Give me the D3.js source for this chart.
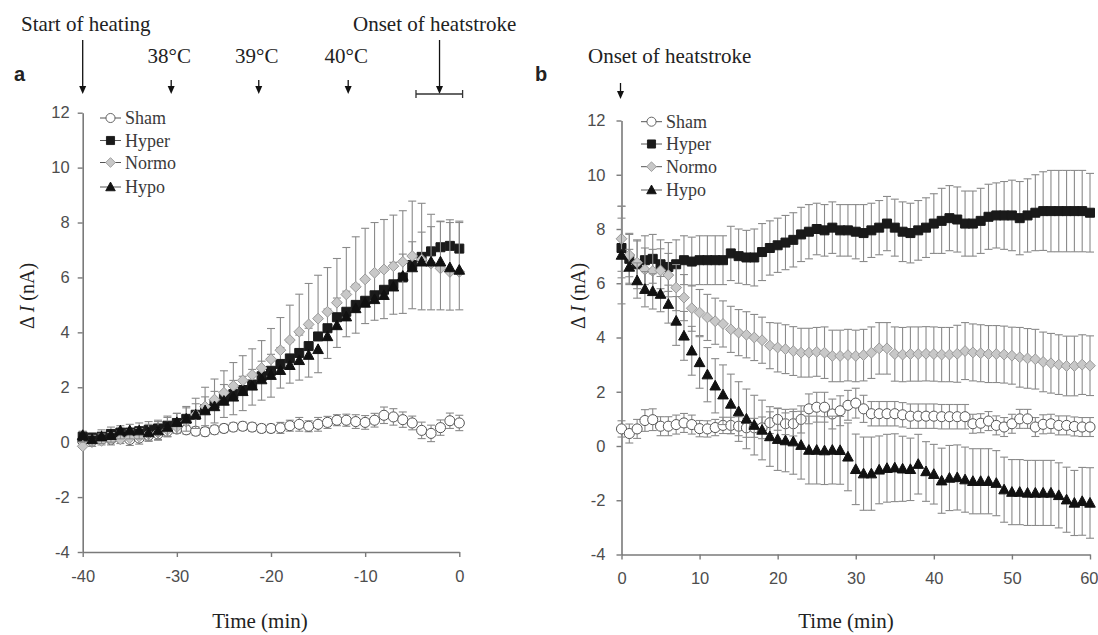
<!DOCTYPE html>
<html>
<head>
<meta charset="utf-8">
<script src="https://cdn.jsdelivr.net/npm/d3@7"></script>
<style>
  body { margin: 0; background: #fff; }
  svg { display: block; }
  text { font-family: "Liberation Serif", "Times New Roman", serif; }
  .tick text { font-family: "Liberation Sans", Arial, sans-serif; font-size: 16.5px; fill: #4d4d4d; }
  .tag { font-family: "Liberation Sans", Arial, sans-serif; font-weight: bold; }
</style>
</head>
<body>
<svg id="chart" width="1098" height="635"></svg>
<script>
// ---- data: panel a (time before heatstroke, min) ----
const timeA = d3.range(-40, 1);
const shamA  = [0.05,0.05,0.1,0.1,0.15,0.1,0.15,0.25,0.3,0.4, 0.48,0.45,0.4,0.38,0.45,0.5,0.55,0.58,0.55,0.5, 0.5,0.52,0.6,0.65,0.58,0.65,0.72,0.8,0.8,0.75, 0.72,0.8,0.98,0.92,0.82,0.7,0.43,0.32,0.53,0.78,0.7];
const shamErrA = [0.2,0.2,0.2,0.2,0.2,0.22,0.22,0.22,0.2,0.2, 0.15,0.15,0.15,0.15,0.15,0.15,0.15,0.15,0.15,0.15, 0.15,0.2,0.2,0.25,0.2,0.25,0.22,0.2,0.22,0.25, 0.25,0.25,0.3,0.3,0.28,0.25,0.3,0.3,0.28,0.28,0.28];
const hyperA = [0.2,0.15,0.2,0.3,0.35,0.35,0.4,0.45,0.5,0.6, 0.7,0.85,1.0,1.2,1.4,1.6,1.75,1.9,2.1,2.4, 2.6,2.85,3.05,3.25,3.5,3.85,4.15,4.55,4.75,5.0, 5.15,5.35,5.55,5.75,6.0,6.45,6.75,6.95,7.1,7.15,7.05];
const hyperErrA = [0.2,0.2,0.25,0.25,0.25,0.3,0.3,0.3,0.3,0.35, 0.35,0.4,0.4,0.45,0.45,0.5,0.5,0.5,0.55,0.55, 0.6,0.6,0.6,0.65,0.65,0.7,0.7,0.7,0.75,0.75, 0.75,0.8,0.8,0.8,0.85,0.85,0.9,0.9,0.95,0.95,1.0];
const normoA = [-0.15,0.0,0.05,0.1,0.1,0.15,0.2,0.3,0.35,0.45, 0.55,0.75,1.0,1.3,1.55,1.8,2.05,2.25,2.45,2.7, 3.02,3.35,3.72,4.02,4.29,4.5,4.75,5.08,5.38,5.66, 5.93,6.17,6.29,6.41,6.57,6.78,6.65,6.5,6.33,6.2,6.2];
const normoErrA = [0.25,0.25,0.25,0.25,0.3,0.3,0.3,0.35,0.4,0.45, 0.5,0.55,0.6,0.7,0.75,0.8,0.85,0.9,0.95,1.0, 1.12,1.19,1.27,1.37,1.49,1.58,1.61,1.61,1.71,1.82, 1.86,1.83,1.82,1.86,1.86,2.0,2.05,1.8,1.7,1.8,1.8];
const hypoA  = [0.25,0.1,0.2,0.25,0.42,0.42,0.42,0.35,0.42,0.55, 0.72,0.85,1.0,1.15,1.3,1.5,1.65,1.85,2.05,2.28, 2.44,2.62,2.8,2.98,3.17,3.38,3.85,4.25,4.57,4.87, 5.07,5.2,5.35,5.66,6.05,6.36,6.57,6.57,6.57,6.36,6.27];
const hypoErrA = [0.25,0.25,0.25,0.25,0.3,0.3,0.3,0.3,0.35,0.35, 0.4,0.45,0.5,0.55,0.6,0.6,0.65,0.7,0.7,0.75, 0.8,0.65,0.65,0.72,0.8,0.85,0.8,0.8,0.73,0.9, 0.75,0.76,0.85,1.0,1.36,1.5,1.75,1.75,1.75,1.55,1.45];

// ---- data: panel b (time after onset of heatstroke, min) ----
const timeB = d3.range(0, 61);
const shamB  = [0.63,0.46,0.63,0.94,0.97,0.73,0.73,0.79,0.85,0.79, 0.64,0.63,0.68,0.76,0.76,0.73,0.67,0.67,0.67,0.86, 0.98,0.82,0.82,0.98,1.37,1.43,1.43,1.18,1.3,1.5, 1.58,1.37,1.19,1.19,1.19,1.19,1.15,1.1,1.1,1.1, 1.1,1.08,1.08,1.08,1.08,0.82,0.84,0.92,0.76,0.7, 0.82,1.0,1.0,0.7,0.8,0.82,0.76,0.76,0.72,0.7,0.7];
const shamErrB = [0.3,0.35,0.35,0.4,0.4,0.35,0.35,0.35,0.35,0.35, 0.3,0.3,0.3,0.3,0.3,0.35,0.35,0.35,0.4,0.4, 0.4,0.4,0.45,0.5,0.55,0.55,0.55,0.55,0.55,0.55, 0.55,0.5,0.45,0.45,0.45,0.45,0.45,0.45,0.45,0.45, 0.45,0.45,0.45,0.45,0.45,0.35,0.35,0.35,0.35,0.35, 0.35,0.35,0.35,0.35,0.35,0.35,0.35,0.35,0.35,0.35,0.35];
const hyperB = [7.3,6.9,6.7,6.85,6.9,6.7,6.6,6.7,6.85,6.8, 6.85,6.85,6.85,6.85,7.1,7.0,6.95,6.95,7.15,7.3, 7.4,7.5,7.6,7.8,7.9,8.0,7.95,8.05,7.95,7.95, 7.9,7.85,7.95,8.05,8.2,8.05,7.9,7.85,7.95,8.05, 8.2,8.3,8.4,8.35,8.2,8.2,8.3,8.45,8.5,8.5, 8.5,8.4,8.5,8.6,8.66,8.66,8.66,8.66,8.66,8.66,8.6];
const hyperErrB = [1.1,0.9,0.9,0.9,0.9,0.9,0.9,0.9,0.9,0.9, 0.9,0.9,0.9,0.9,1.0,1.0,1.0,1.05,1.05,1.0, 1.0,1.0,1.0,1.0,1.0,0.95,0.95,0.95,0.95,0.95, 1.0,1.05,1.0,1.0,1.0,1.05,1.1,1.1,1.1,1.1, 1.1,1.2,1.2,1.2,1.2,1.2,1.2,1.2,1.2,1.25, 1.3,1.35,1.35,1.4,1.45,1.5,1.5,1.5,1.5,1.5,1.45];
const normoB = [7.64,7.04,6.76,6.5,6.45,6.47,6.3,5.84,5.47,5.08, 4.92,4.74,4.6,4.5,4.3,4.18,4.1,4.0,3.9,3.7, 3.63,3.57,3.5,3.44,3.44,3.47,3.44,3.32,3.32,3.35, 3.32,3.35,3.44,3.6,3.6,3.39,3.37,3.39,3.39,3.4, 3.39,3.37,3.37,3.4,3.5,3.45,3.42,3.39,3.39,3.37, 3.33,3.27,3.23,3.2,3.1,3.05,3.0,2.95,2.95,3.0,2.96];
const normoErrB = [1.2,0.8,0.8,0.8,0.8,0.8,0.8,0.85,0.85,0.85, 0.85,0.85,0.85,0.85,0.85,0.85,0.85,0.85,0.85,0.85, 0.9,0.9,0.9,0.9,0.9,0.9,0.95,0.95,0.95,0.95, 0.95,0.95,0.95,0.95,0.95,1.0,1.0,1.0,1.0,1.0, 1.0,1.0,1.0,1.05,1.05,1.05,1.05,1.05,1.05,1.05, 1.05,1.1,1.1,1.1,1.1,1.1,1.1,1.1,1.1,1.1,1.1];
const hypoB  = [7.04,6.6,6.1,5.78,5.7,5.6,5.23,4.61,4.06,3.51, 3.08,2.63,2.22,1.89,1.55,1.27,1.0,0.77,0.59,0.35, 0.25,0.2,0.16,0.03,-0.15,-0.15,-0.17,-0.15,-0.16,-0.4, -0.86,-1.02,-1.02,-0.88,-0.82,-0.8,-0.84,-0.86,-0.67,-0.94, -1.04,-1.28,-1.18,-1.16,-1.24,-1.3,-1.3,-1.3,-1.37,-1.61, -1.7,-1.7,-1.73,-1.73,-1.73,-1.73,-1.82,-1.98,-2.1,-2.04,-2.1];
const hypoErrB = [1.8,0.65,0.65,0.65,0.65,0.65,0.7,0.9,0.9,0.9, 0.95,1.0,1.0,1.1,1.1,1.1,1.1,1.1,1.1,1.1, 1.15,1.15,1.2,1.25,1.25,1.25,1.25,1.25,1.25,1.25, 1.3,1.35,1.35,1.25,1.25,1.25,1.2,1.15,1.1,1.1, 1.1,1.2,1.2,1.2,1.2,1.2,1.2,1.2,1.2,1.2, 1.2,1.2,1.2,1.2,1.2,1.2,1.2,1.2,1.2,1.25,1.3];

const seriesNames = ["Sham", "Hyper", "Normo", "Hypo"];
const yTicks = [-4, -2, 0, 2, 4, 6, 8, 10, 12];
const xTicksA = [-40, -30, -20, -10, 0];
const xTicksB = [0, 10, 20, 30, 40, 50, 60];
const tempLabels = ["38°C", "39°C", "40°C"];
const tempTimes = [-30.6, -21.3, -11.8];

// marker styles for each group
const markStyle = {
  Sham:  { path: d3.symbol(d3.symbolCircle, 80)(), fill: "#fff", stroke: "#555" },
  Hyper: { path: "M-4.5,-4.5h9v9h-9z", fill: "#1a1a1a", stroke: "#1a1a1a" },
  Normo: { path: "M0,-5.4L5.4,0L0,5.4L-5.4,0Z", fill: "#c8c8c8", stroke: "#999" },
  Hypo:  { path: "M0,-5.5L5.3,4.2L-5.3,4.2Z", fill: "#111", stroke: "#111" }
};

const svg = d3.select("#chart");
const axisColor = "#7a7a7a";
const errColor = "#8a8a8a";

// plain hyphen minus, as in the original figure
const tickFmt = d => String(d);

function drawPanel(p) {
  const g = svg.append("g");

  // axes
  const yAxis = g.append("g")
    .attr("transform", `translate(${p.x.range()[0]},0)`)
    .call(d3.axisLeft(p.y).tickValues(yTicks).tickFormat(tickFmt).tickSize(5).tickSizeOuter(0).tickPadding(p.yPad));
  const xAxis = g.append("g")
    .attr("transform", `translate(0,${p.y(-4)})`)
    .call(d3.axisBottom(p.x).tickValues(p.xTicks).tickFormat(tickFmt).tickSize(5).tickSizeOuter(0).tickPadding(10));
  [yAxis, xAxis].forEach(a => {
    a.select(".domain").attr("stroke", axisColor).attr("stroke-width", 1.6);
    a.selectAll(".tick line").attr("stroke", axisColor).attr("stroke-width", 1.4);
  });
  xAxis.selectAll(".tick text").attr("dy", "0.9em");
  if (p.lastLabelEnd) {
    // keep the last label inside the page
    xAxis.selectAll(".tick text").filter(d => d === p.xTicks[p.xTicks.length - 1])
      .attr("text-anchor", "end").attr("x", 8);
  }

  // series: error bars then markers
  p.series.forEach(s => {
    const st = markStyle[s.name];
    const pts = p.time.map((t, i) => ({ t: t, v: s.values[i], e: s.errs[i] }));
    const eg = g.append("g").attr("stroke", errColor).attr("stroke-width", 1.1).attr("fill", "none");
    pts.forEach(d => {
      const ends = [];
      if (s.dir !== "down") ends.push(d.v + d.e);
      if (s.dir !== "up") ends.push(d.v - d.e);
      ends.forEach(v => {
        eg.append("line").attr("x1", p.x(d.t)).attr("x2", p.x(d.t)).attr("y1", p.y(d.v)).attr("y2", p.y(v));
        eg.append("line").attr("x1", p.x(d.t) - 4).attr("x2", p.x(d.t) + 4).attr("y1", p.y(v)).attr("y2", p.y(v));
      });
    });
    g.append("g").selectAll("path").data(pts).join("path")
      .attr("d", st.path)
      .attr("transform", d => `translate(${p.x(d.t)},${p.y(d.v)})`)
      .attr("fill", st.fill).attr("stroke", st.stroke).attr("stroke-width", 1);
  });

  // legend
  seriesNames.forEach((name, i) => {
    const st = markStyle[name];
    const ly = p.legend.rows[i];
    g.append("line").attr("x1", p.legend.x).attr("x2", p.legend.x + 21)
      .attr("y1", ly).attr("y2", ly).attr("stroke", "#555").attr("stroke-width", 1);
    g.append("path").attr("d", st.path)
      .attr("transform", `translate(${p.legend.x + 10.5},${ly}) scale(0.9)`)
      .attr("fill", st.fill).attr("stroke", st.stroke);
    g.append("text").attr("x", p.legend.x + 25).attr("y", ly + 6)
      .attr("font-size", 18).attr("fill", "#3a3a3a").text(name);
  });

  // axis titles
  const yt = g.append("text")
    .attr("transform", `translate(${p.yTitle[0]},${p.yTitle[1]}) rotate(-90)`)
    .attr("text-anchor", "middle").attr("font-size", 20).attr("fill", "#222");
  yt.append("tspan").text("Δ ");
  yt.append("tspan").attr("font-style", "italic").text("I");
  yt.append("tspan").text(" (nA)");
  g.append("text").attr("x", p.xTitle[0]).attr("y", p.xTitle[1])
    .attr("text-anchor", "middle").attr("font-size", 21).attr("fill", "#222").text("Time (min)");

  g.append("text").attr("class", "tag").attr("x", p.tag[0]).attr("y", p.tag[1])
    .attr("font-size", 20).attr("fill", "#222").text(p.tagText);
  return g;
}

function arrow(g, x, y1, y2) {
  g.append("line").attr("x1", x).attr("x2", x).attr("y1", y1).attr("y2", y2 - 6)
    .attr("stroke", "#111").attr("stroke-width", 1.3);
  g.append("path").attr("d", `M${x - 3.5},${y2 - 8}L${x + 3.5},${y2 - 8}L${x},${y2}Z`).attr("fill", "#111");
}

// ---- panel a ----
const xA = d3.scaleLinear().domain([-40, 0]).range([82.7, 459.3]);
const yA = d3.scaleLinear().domain([-4, 12]).range([552, 112.7]);
const gA = drawPanel({
  x: xA, y: yA, time: timeA, xTicks: xTicksA, yPad: 8,
  series: [
    { name: "Sham",  values: shamA,  errs: shamErrA,  dir: "both" },
    { name: "Hyper", values: hyperA, errs: hyperErrA, dir: "up" },
    { name: "Normo", values: normoA, errs: normoErrA, dir: "up" },
    { name: "Hypo",  values: hypoA,  errs: hypoErrA,  dir: "down" }
  ],
  legend: { x: 100, rows: [118, 140.5, 162.5, 187] },
  yTitle: [34, 296], xTitle: [260, 628], tag: [14, 81], tagText: "a"
});

gA.append("text").attr("x", 21).attr("y", 31).attr("font-size", 21).attr("fill", "#222").text("Start of heating");
arrow(gA, xA(-40), 40, 94);
tempLabels.forEach((lab, i) => {
  gA.append("text").attr("x", xA(tempTimes[i]) - 2).attr("y", 63).attr("text-anchor", "middle")
    .attr("font-size", 21).attr("fill", "#222").text(lab);
  arrow(gA, xA(tempTimes[i]), 80, 94);
});
gA.append("text").attr("x", 353).attr("y", 31).attr("font-size", 21).attr("fill", "#222").text("Onset of heatstroke");
arrow(gA, xA(-2.1), 40, 94);
const bracket = gA.append("g").attr("stroke", "#333").attr("stroke-width", 1.3);
bracket.append("line").attr("x1", xA(-4.6)).attr("x2", xA(0.35)).attr("y1", 94).attr("y2", 94);
bracket.append("line").attr("x1", xA(-4.6)).attr("x2", xA(-4.6)).attr("y1", 90).attr("y2", 98);
bracket.append("line").attr("x1", xA(0.35)).attr("x2", xA(0.35)).attr("y1", 90).attr("y2", 98);

// ---- panel b ----
const xB = d3.scaleLinear().domain([0, 60]).range([621.5, 1090]);
const yB = d3.scaleLinear().domain([-4, 12]).range([554.5, 120.5]);
const gB = drawPanel({
  x: xB, y: yB, time: timeB, xTicks: xTicksB, yPad: 11, lastLabelEnd: true,
  series: [
    { name: "Sham",  values: shamB,  errs: shamErrB,  dir: "both" },
    { name: "Hyper", values: hyperB, errs: hyperErrB, dir: "both" },
    { name: "Normo", values: normoB, errs: normoErrB, dir: "both" },
    { name: "Hypo",  values: hypoB,  errs: hypoErrB,  dir: "both" }
  ],
  legend: { x: 641, rows: [121.7, 144, 166.7, 190] },
  yTitle: [585, 296], xTitle: [846, 628], tag: [535, 81], tagText: "b"
});
gB.append("text").attr("x", 588).attr("y", 63).attr("font-size", 21).attr("fill", "#222").text("Onset of heatstroke");
arrow(gB, xB(0) - 1, 83, 99);
</script>
</body>
</html>
